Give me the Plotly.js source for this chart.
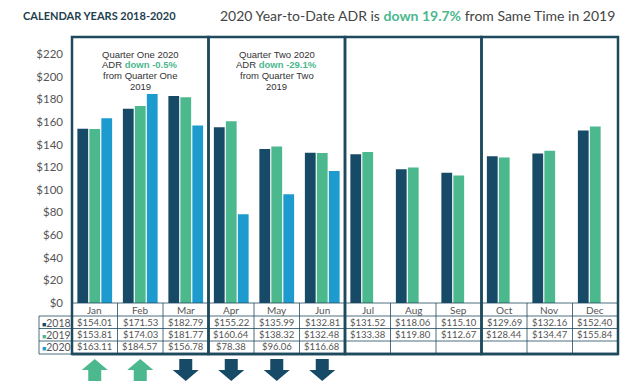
<!DOCTYPE html>
<html><head><meta charset="utf-8">
<script src="https://cdn.plot.ly/plotly-3.0.1.min.js"></script>
<style>html,body{margin:0;padding:0;background:#fff;}</style>
</head><body><div id="chart" style="width:640px;height:387px;"></div>
<script>
const months = ["Jan","Feb","Mar","Apr","May","Jun","Jul","Aug","Sep","Oct","Nov","Dec"];
const years = ["2018","2019","2020"];
const adr2018 = [154.01,171.53,182.79,155.22,135.99,132.81,131.52,118.06,115.10,129.69,132.16,152.40];
const adr2019 = [153.81,174.03,181.77,160.64,138.32,132.48,133.38,119.80,112.67,128.44,134.47,155.84];
const adr2020 = [163.11,184.57,156.78,78.38,96.06,116.68];
const yTicks = [0,20,40,60,80,100,120,140,160,180,200,220];
const quarterNotes = [
  {q:0, lines:["Quarter One 2020","ADR <b><span style='color:#4cb88e'>down -0.5%</span></b>","from Quarter One","2019"]},
  {q:1, lines:["Quarter Two 2020","ADR <b><span style='color:#4cb88e'>down -29.1%</span></b>","from Quarter Two","2019"]}
];

const colors = ["#164a66","#4cb88e","#1d9bce"];
const series = [adr2018, adr2019, adr2020];
const navy = "#1e4a5e";
const H = 266, W = 546; // plot area px
const py = px => (303 - px) / H;
const pxw = w => w / W;
const cx = i => (i + 0.5) / months.length;

const traces = series.map((s, k) => ({
  type: "bar", name: years[k], x: months.slice(0, s.length), y: s,
  marker: {color: colors[k], line: {width: 0}}, hoverinfo: "x+y"
}));

const shapes = [];
const annotations = [];
[303, 316, 328.5, 341, 354].forEach((p, idx) => {
  shapes.push({type:"line", xref:"paper", yref:"paper", x0:0, x1:1, y0:py(p), y1:py(p),
    line:{color:navy, width: idx === 4 ? 2.5 : 0.8}});
});
[316, 328.5, 341, 354].forEach(p => {
  shapes.push({type:"line", xref:"paper", yref:"paper", x0:pxw(-33), x1:0, y0:py(p), y1:py(p),
    line:{color:navy, width:0.8}});
});
shapes.push({type:"line", xref:"paper", yref:"paper", x0:pxw(-33), x1:pxw(-33), y0:py(316), y1:py(354),
  line:{color:navy, width:0.8}});
for (let i = 1; i < months.length; i++) {
  if (i % 3 !== 0) {
    shapes.push({type:"line", xref:"paper", yref:"paper", x0:i/months.length, x1:i/months.length,
      y0:py(303), y1:py(354), line:{color:navy, width:0.8}});
  }
}
for (let q = 0; q < 4; q++) {
  shapes.push({type:"rect", xref:"paper", yref:"paper", x0:q*3/months.length, x1:(q+1)*3/months.length,
    y0:py(354), y1:1, line:{color:navy, width:2.5}, fillcolor:"rgba(0,0,0,0)"});
}
adr2020.forEach((v, i) => {
  const up = v > adr2019[i];
  const c = cx(i), hw = pxw(13), sw = pxw(6.5);
  const top = py(359), mid = py(370), bot = py(381);
  let path;
  if (up) {
    path = `M ${c} ${top} L ${c+hw} ${mid} L ${c+sw} ${mid} L ${c+sw} ${bot} L ${c-sw} ${bot} L ${c-sw} ${mid} L ${c-hw} ${mid} Z`;
  } else {
    path = `M ${c-sw} ${top} L ${c+sw} ${top} L ${c+sw} ${mid} L ${c+hw} ${mid} L ${c} ${bot} L ${c-hw} ${mid} L ${c-sw} ${mid} Z`;
  }
  shapes.push({type:"path", xref:"paper", yref:"paper", path:path,
    fillcolor: up ? "#4cb88e" : "#164a66", line:{width:0}});
});

const tfont = {family:"Lato, 'Open Sans', sans-serif", size:9.5, color:"#555"};
months.forEach((m, i) => {
  annotations.push({xref:"paper", yref:"paper", x:cx(i), y:py(310), text:m, showarrow:false,
    font:{family:"Lato, 'Open Sans', sans-serif", size:10, color:"#555"}, xanchor:"center", yanchor:"middle"});
  series.forEach((s, k) => {
    if (i < s.length) {
      annotations.push({xref:"paper", yref:"paper", x:cx(i), y:py([322.5,334.5,347][k]),
        text:"$" + s[i].toFixed(2), showarrow:false, font:tfont, xanchor:"center", yanchor:"middle"});
    }
  });
});
years.forEach((yv, k) => {
  annotations.push({xref:"paper", yref:"paper", x:pxw(-32.5), y:py([322.5,334.5,347][k]),
    text:"<span style='color:" + colors[k] + "; font-size:7px'>■</span>" + yv, showarrow:false,
    font:{family:"Lato, 'Open Sans', sans-serif", size:10.5, color:"#555"}, xanchor:"left", yanchor:"middle"});
});
quarterNotes.forEach(n => {
  n.lines.forEach((ln, j) => {
    annotations.push({xref:"paper", yref:"paper", x:(n.q*3+1.5)/months.length, y:py(54 + 10.7*j),
      text:ln, showarrow:false, xanchor:"center", yanchor:"middle",
      font:{family:"Liberation Sans, Arial, sans-serif", size:9.5, color:"#333"}});
  });
});
annotations.push({xref:"paper", yref:"paper", x:pxw(21-72), y:py(16), xanchor:"left", yanchor:"middle",
  text:"<b>CALENDAR YEARS 2018-2020</b>", showarrow:false,
  font:{family:"Lato, 'Open Sans', sans-serif", size:11, color:"#1e3f50"}});
annotations.push({xref:"paper", yref:"paper", x:pxw(617-72), y:py(16), xanchor:"right", yanchor:"middle",
  text:"2020 Year-to-Date ADR is <b><span style='color:#4cb88e'>down 19.7%</span></b> from Same Time in 2019", showarrow:false,
  font:{family:"Lato, 'Open Sans', sans-serif", size:14, color:"#444"}});

const layout = {
  width:640, height:387, autosize:false,
  margin:{l:72, r:22, t:37, b:84, pad:0},
  paper_bgcolor:"#fff", plot_bgcolor:"#fff",
  showlegend:false,
  barmode:"group", bargap:0.21, bargroupgap:0.1,
  xaxis:{type:"category", categoryorder:"array", categoryarray:months, range:[-0.5, 11.5],
    showticklabels:false, ticks:"", showgrid:false, zeroline:false, showline:false, fixedrange:true},
  yaxis:{range:[0,235], tickvals:yTicks, ticktext:yTicks.map(v => "$" + v), showgrid:false, zeroline:false,
    showline:false, ticks:"", ticklabelstandoff:8,
    tickfont:{family:"Lato, 'Open Sans', sans-serif", size:11.5, color:"#555"}, fixedrange:true},
  shapes:shapes, annotations:annotations
};
Plotly.newPlot("chart", traces, layout, {displayModeBar:false, staticPlot:true});
</script></body></html>
